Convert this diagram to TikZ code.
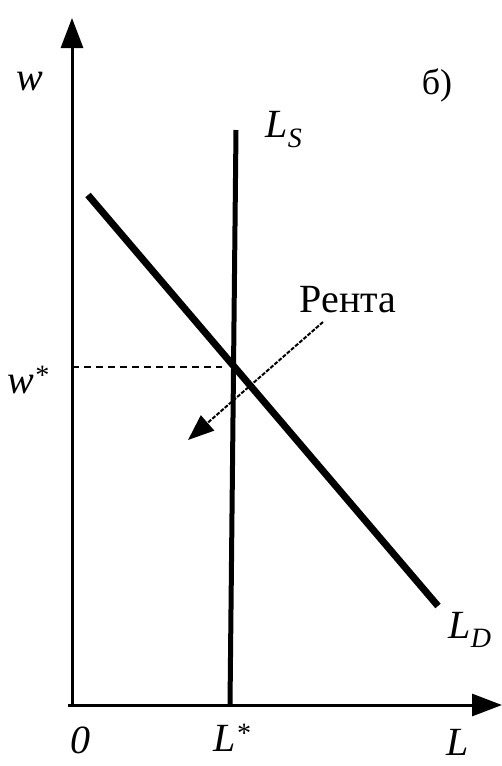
\documentclass[tikz,border=0pt]{standalone}
\usepackage{fontspec}
\setmainfont{Liberation Serif}
\usetikzlibrary{arrows.meta}
\begin{document}
\begin{tikzpicture}[x=1pt,y=-1pt,
  lbl/.style={inner sep=0pt,font=\fontsize{40}{40}\selectfont},
  axis/.style={line width=3pt,-{Triangle[length=30pt,width=22pt]}}]
\useasboundingbox (0,0) rectangle (502,766);
\coordinate (O) at (72,705);
\coordinate (ytop) at (72,18);
\coordinate (xend) at (502,705);
\draw[axis] (O) -- (ytop);
\draw[axis] (68,705) -- (xend);
\coordinate (lstop) at (236,130);
\coordinate (lsbot) at (230,705);
\draw[line width=5pt] (lstop) -- (lsbot);
\coordinate (ldtop) at (88,195);
\coordinate (ldbot) at (438,606);
\draw[line width=7pt] (ldtop) -- (ldbot);
\coordinate (E) at (233,367);
\coordinate (wl) at (72,367);
\draw[line width=2pt,dash pattern=on 7pt off 5pt] (wl) -- (222,367);
\node[lbl] (rent) at (348,300) {Рента};
\coordinate (as) at (323,322);
\coordinate (ae) at (188,440);
\draw[line width=2pt,dash pattern=on 4pt off 1.5pt,-{Triangle[length=26pt,width=20pt]}] (as) -- (ae);
\node[lbl] (b) at (437,85) {\fontsize{36}{36}\selectfont б)};
\node[lbl] (w) at (30,82) {\itshape w};
\node[lbl] (ws) at (28,380) {\itshape w\textsuperscript{*}};
\node[lbl] (ls) at (284,130) {\itshape L\textsubscript{S}};
\node[lbl] (ld) at (470,630) {\itshape L\textsubscript{D}};
\node[lbl] (zero) at (80,740) {\itshape 0};
\node[lbl] (lstar) at (232,738) {\itshape L\textsuperscript{*}};
\node[lbl] (L) at (458,742) {\itshape L};
\end{tikzpicture}
\end{document}
